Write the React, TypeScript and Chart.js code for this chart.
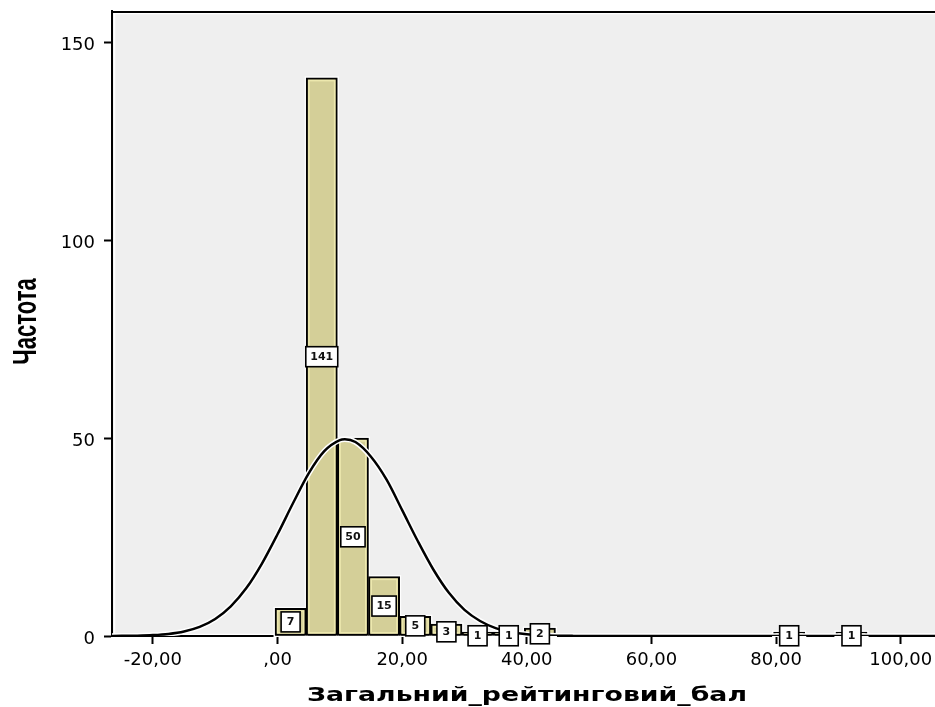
import React, { useEffect, useRef } from 'react';
import { Chart, registerables } from 'chart.js';

Chart.register(...registerables);

// Histogram bins (bin width 5), centers and frequencies
const BIN_CENTERS = [2.1, 7.1, 12.1, 17.1, 22.1, 27.1, 32.1, 37.1, 42.1, 47.1, 52.1, 57.1, 62.1, 67.1, 72.1, 77.1, 82.1, 87.1, 92.1];
const BIN_COUNTS = [7, 141, 50, 15, 5, 3, 1, 1, 2, 0, 0, 0, 0, 0, 0, 0, 1, 0, 1];

// Normal curve
const CURVE_X = [-27, -25, -22.5, -20, -17.5, -15, -12.5, -10, -7.5, -5, -2.5, 0, 2.5, 5, 7.5, 10, 10.8, 12.5, 15, 17.5, 20, 22.5, 25, 27.5, 30, 32.5, 35, 37.5, 40, 42.5, 45, 47.5, 50, 106];
const CURVE_Y = [0.02, 0.04, 0.09, 0.23, 0.53, 1.15, 2.3, 4.3, 7.5, 12.1, 18.3, 25.7, 33.6, 41.1, 46.7, 49.5, 49.7, 49.0, 45.3, 39.5, 31.8, 24.0, 16.8, 10.9, 6.6, 3.8, 2.0, 1.0, 0.45, 0.2, 0.08, 0.03, 0.01, 0];

const X_TICK_VALUES = [-20, 0, 20, 40, 60, 80, 100];
const X_TICK_LABELS = ['-20,00', ',00', '20,00', '40,00', '60,00', '80,00', '100,00'];
const Y_TICK_VALUES = [0, 50, 100, 150];
const Y_TICK_LABELS = ['0', '50', '100', '150'];

const X_TITLE = 'Загальний_рейтинговий_бал';
const Y_TITLE = 'Частота';

const X_MIN = -26.56;
const X_MAX = 105.5;
const Y_MIN = 0;
const Y_MAX = 157.9;

const framePlugin = {
  id: 'frame',
  beforeDraw(chart: any) {
    const { ctx, chartArea: a } = chart;
    ctx.save();
    ctx.fillStyle = '#efefef';
    ctx.fillRect(a.left, a.top, a.right - a.left, a.bottom - a.top);
    ctx.strokeStyle = '#ffffff';
    ctx.lineWidth = 1.5;
    ctx.strokeRect(a.left + 2.5, a.top + 2.5, a.right - a.left + 20, a.bottom - a.top - 4);
    ctx.strokeStyle = '#000';
    ctx.lineWidth = 2;
    ctx.beginPath();
    ctx.moveTo(a.left - 1, a.top + 1);
    ctx.lineTo(a.right, a.top + 1);
    ctx.stroke();
    ctx.restore();
  },
};

const barDecorPlugin = {
  id: 'barDecor',
  beforeDatasetDraw(chart: any, args: any) {
    if (args.index !== 0) return;
    const ctx = chart.ctx;
    const meta = chart.getDatasetMeta(0);
    ctx.save();
    ctx.strokeStyle = '#ffffff';
    ctx.lineWidth = 1.5;
    meta.data.forEach((el: any, i: number) => {
      if (!BIN_COUNTS[i]) return;
      const p = el.getProps(['x', 'y', 'base', 'width'], true);
      const left = p.x - p.width / 2;
      ctx.strokeRect(left - 0.75, p.y - 0.75, p.width + 1.5, p.base - p.y + 1.5);
    });
    ctx.restore();
  },
  afterDatasetDraw(chart: any, args: any) {
    if (args.index !== 0) return;
    const ctx = chart.ctx;
    const meta = chart.getDatasetMeta(0);
    ctx.save();
    ctx.strokeStyle = '#ede8ae';
    ctx.lineWidth = 1.5;
    meta.data.forEach((el: any, i: number) => {
      if (!BIN_COUNTS[i]) return;
      const p = el.getProps(['x', 'y', 'base', 'width'], true);
      const h = p.base - p.y;
      if (h < 10) return;
      const left = p.x - p.width / 2;
      ctx.strokeRect(left + 2.75, p.y + 2.75, p.width - 5.5, h - 5.5);
    });
    ctx.restore();
  },
};

const labelPlugin = {
  id: 'barLabels',
  afterDatasetsDraw(chart: any) {
    const ctx = chart.ctx;
    const meta = chart.getDatasetMeta(0);
    ctx.save();
    ctx.font = 'bold 11px "DejaVu Sans"';
    ctx.textAlign = 'center';
    ctx.textBaseline = 'middle';
    meta.data.forEach((el: any, i: number) => {
      const v = BIN_COUNTS[i];
      if (!v) return;
      const p = el.getProps(['x', 'y', 'base'], true);
      const cy = (p.y + p.base) / 2 + (v < 4 ? 2 : 0);
      const txt = String(v);
      const w = Math.max(ctx.measureText(txt).width + 9, 19);
      const h = 20;
      ctx.fillStyle = '#ffffff';
      ctx.fillRect(p.x - w / 2, cy - h / 2, w, h);
      ctx.strokeStyle = '#000';
      ctx.lineWidth = 1.6;
      ctx.strokeRect(p.x - w / 2, cy - h / 2, w, h);
      ctx.fillStyle = '#111';
      ctx.fillText(txt, p.x, cy + 0.5);
    });
    ctx.restore();
  },
};

const titlesPlugin = {
  id: 'axisTitles',
  afterDraw(chart: any) {
    const ctx = chart.ctx;
    const a = chart.chartArea;
    ctx.save();
    ctx.fillStyle = '#000';
    ctx.font = 'bold 20px "DejaVu Sans"';
    const w = ctx.measureText(X_TITLE).width;
    const sx = 440 / w;
    ctx.translate(527, 701);
    ctx.scale(sx, 1);
    ctx.textAlign = 'center';
    ctx.textBaseline = 'alphabetic';
    ctx.fillText(X_TITLE, 0, 0);
    ctx.restore();

    ctx.save();
    ctx.fillStyle = '#000';
    ctx.font = 'bold 22px "Liberation Sans"';
    ctx.translate(36, (a.top + a.bottom) / 2 - 2);
    ctx.scale(1.5, 1);
    ctx.rotate(-Math.PI / 2);
    ctx.textAlign = 'center';
    ctx.textBaseline = 'alphabetic';
    ctx.fillText(Y_TITLE, 0, 0);
    ctx.restore();
  },
};

export default function App() {
  const ref = useRef<HTMLCanvasElement>(null);

  useEffect(() => {
    if (!ref.current) return;
    const barData = BIN_CENTERS.map((c, i) => ({ x: c, y: BIN_COUNTS[i] ? BIN_COUNTS[i] : null }));
    const curveData = CURVE_X.map((x, i) => ({ x, y: CURVE_Y[i] }));

    const chart = new Chart(ref.current, {
      type: 'bar',
      data: {
        datasets: [
          {
            type: 'bar',
            data: barData as any,
            backgroundColor: '#d4cf98',
            borderColor: '#000',
            borderWidth: 2,
            borderSkipped: false,
            barPercentage: 1,
            categoryPercentage: 1,
            grouped: false,
            order: 3,
          } as any,
          {
            type: 'line',
            data: curveData as any,
            borderColor: '#ffffff',
            borderWidth: 5.5,
            pointRadius: 0,
            cubicInterpolationMode: 'monotone',
            fill: false,
            order: 2,
          } as any,
          {
            type: 'line',
            data: curveData as any,
            borderColor: '#000',
            borderWidth: 2.5,
            pointRadius: 0,
            cubicInterpolationMode: 'monotone',
            fill: false,
            order: 1,
          } as any,
        ],
      },
      options: {
        responsive: false,
        animation: false,
        events: [],
        layout: { padding: { top: 11, left: 0, right: 0, bottom: 0 } },
        plugins: { legend: { display: false }, tooltip: { enabled: false } },
        scales: {
          x: {
            type: 'linear',
            min: X_MIN,
            max: X_MAX,
            offset: false,
            afterFit: (s: any) => { s.height = 71; s.paddingLeft = 0; s.paddingRight = 0; },
            afterBuildTicks: (s: any) => { s.ticks = X_TICK_VALUES.map((v) => ({ value: v })); },
            ticks: {
              callback: (_v: any, i: number) => X_TICK_LABELS[i],
              font: { family: 'DejaVu Sans', size: 18 },
              color: '#000',
              padding: 6,
              maxRotation: 0,
              autoSkip: false,
              includeBounds: false,
            },
            grid: { display: true, drawOnChartArea: false, drawTicks: true, tickLength: 8, tickColor: '#000', tickWidth: 2, offset: false },
            border: { display: true, color: '#000', width: 2 },
          },
          y: {
            type: 'linear',
            min: Y_MIN,
            max: Y_MAX,
            afterFit: (s: any) => { s.width = 112; s.paddingTop = 0; s.paddingBottom = 0; },
            afterBuildTicks: (s: any) => { s.ticks = Y_TICK_VALUES.map((v) => ({ value: v })); },
            ticks: {
              callback: (_v: any, i: number) => Y_TICK_LABELS[i],
              font: { family: 'DejaVu Sans', size: 18 },
              color: '#000',
              padding: 9,
              labelOffset: 3,
              autoSkip: false,
              includeBounds: false,
            },
            grid: { display: true, drawOnChartArea: false, drawTicks: true, tickLength: 8, tickColor: '#000', tickWidth: 2 },
            border: { display: true, color: '#000', width: 2 },
          },
        },
      } as any,
      plugins: [framePlugin, barDecorPlugin, labelPlugin, titlesPlugin],
    });
    return () => chart.destroy();
  }, []);

  return (
    <div style={{ position: 'absolute', left: 0, top: 0, width: 935, height: 707, background: '#fff', overflow: 'hidden' }}>
      <canvas ref={ref} width={935} height={707} style={{ display: 'block' }} />
    </div>
  );
}
